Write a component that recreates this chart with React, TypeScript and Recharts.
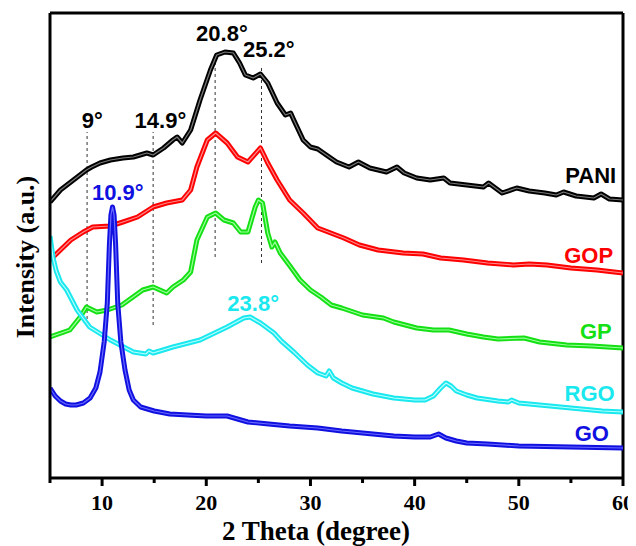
import { LineChart, Line, XAxis, YAxis, ReferenceLine, ReferenceDot } from "recharts";

// 2θ (degree) vs intensity (a.u., arbitrary offset scale)
const PANI: [number, number][] = [
  [5, 276], [6, 288], [7, 296], [8, 304], [8.5, 308], [9, 311], [9.8, 315], [10.8, 318],
  [12, 320], [13, 321], [14.3, 325], [14.9, 323], [15.9, 330], [16.8, 338], [17.2, 341],
  [17.7, 335], [18.5, 348], [19.4, 378], [20, 396], [20.4, 408], [21, 423], [21.8, 426],
  [22.6, 425], [23.2, 415], [23.75, 403], [24.5, 400], [25.2, 404], [25.9, 395], [26.8, 375],
  [27.6, 363], [28.1, 365], [28.4, 358], [29.3, 338], [30, 331], [30.7, 329], [31.8, 321],
  [32.5, 316], [33.7, 311], [34.6, 316], [35.7, 310], [36.5, 308], [37.3, 306], [38.3, 311],
  [39, 305], [40.2, 300], [41.5, 298], [42.8, 300], [43.4, 295], [45, 293], [46.6, 291],
  [47.1, 295], [48.4, 285], [49.8, 290], [51, 287], [52.5, 285], [53.6, 283], [54.3, 286],
  [55.5, 282], [57.2, 280], [57.9, 284], [58.7, 279], [60, 278],
];

const GOP: [number, number][] = [
  [5, 218], [5.3, 221], [6, 228], [7, 238], [8.2, 246], [9.1, 251], [10.8, 252], [12, 256],
  [13.4, 261], [14.9, 271], [16.2, 275], [17.7, 278], [18.5, 288], [19.1, 311], [20.1, 338],
  [20.9, 345], [22, 335], [23, 321], [24, 316], [25.2, 330], [25.9, 315], [26.8, 298],
  [28, 278], [29.3, 265], [30.7, 250], [33.2, 240], [34.7, 233], [36.5, 228], [38.9, 225],
  [40.8, 224], [42.5, 220], [44.7, 218], [47, 215], [49.5, 213], [51, 214], [52.7, 213],
  [55, 210], [57.5, 208], [60, 205],
];

const GP: [number, number][] = [
  [5, 141], [6.9, 148], [7.9, 161], [8.5, 171], [9.5, 166], [10.5, 168], [11.9, 173],
  [13.9, 188], [14.9, 191], [16.2, 185], [16.8, 191], [17.8, 198], [18.5, 206], [19.1, 238],
  [20.1, 261], [20.9, 265], [21.7, 258], [22.6, 255], [23.3, 246], [24, 246], [24.7, 271],
  [25, 278], [25.4, 275], [25.9, 245], [26.3, 231], [26.6, 236], [27.1, 225], [28.1, 211],
  [29, 198], [30, 188], [31, 181], [32, 173], [33, 170], [35, 163], [37, 160], [38, 156],
  [40.2, 150], [41.8, 148], [43.3, 148], [45, 144], [46.6, 141], [48, 139], [50.5, 140],
  [52, 136], [54.6, 133], [57, 132], [60, 130],
];

const RGO: [number, number][] = [
  [5, 242], [5.3, 220], [5.6, 207], [6, 196], [6.6, 188], [7.6, 168], [8.8, 151], [10.8, 138],
  [13, 126], [14.2, 124], [14.5, 127], [14.9, 125], [16.8, 131], [19.4, 138], [22, 151],
  [23.6, 160], [24.2, 161], [25.2, 155], [26.5, 145], [27.2, 137], [28.4, 126], [29.7, 113],
  [30.7, 105], [31.5, 102], [31.8, 107], [32.2, 100], [33, 95], [34, 90], [35, 87], [36, 84],
  [37, 82], [38, 80], [39, 79], [40, 78], [41, 78], [41.8, 82], [42.5, 90], [43, 95],
  [43.5, 92], [44, 87], [45, 83], [46, 80], [48, 77], [49, 76], [49.3, 78], [50, 75],
  [52, 73], [54, 71], [56, 69], [58, 67], [60, 66],
];

const GO: [number, number][] = [
  [5, 90], [5.5, 82], [6, 77], [6.5, 74], [7, 73], [7.5, 73], [8.2, 75], [8.85, 80],
  [9.4, 90], [9.8, 106], [10.2, 136], [10.5, 175], [10.7, 233], [10.85, 263], [11, 271],
  [11.15, 263], [11.3, 233], [11.5, 175], [11.8, 136], [12.2, 108], [12.6, 88], [13, 78],
  [13.7, 71], [15, 67], [16.5, 64], [18.2, 63], [20, 62], [22, 62], [23, 59], [24, 56],
  [26, 54], [28, 52], [30.7, 50], [33, 47], [35, 45], [38, 42], [40, 41], [41.5, 41],
  [42.3, 44], [43, 40], [44, 37], [45, 35], [47, 34], [50, 32], [55, 31], [60, 30],
];

const THETA_TICKS = [5, 10, 15, 20, 25, 30, 35, 40, 45, 50, 55, 60];

const SERIES = [
  { name: "PANI", data: PANI, color: "#000000", core: "#7a7a7a" },
  { name: "GOP", data: GOP, color: "#ff0000", core: "#ff8a8a" },
  { name: "GP", data: GP, color: "#14e014", core: "#9cff9c" },
  { name: "RGO", data: RGO, color: "#19e8ee", core: "#b8ffff" },
  { name: "GO", data: GO, color: "#1010e0", core: "#6a6aff" },
];

// dashed drop lines at the marked reflections
const DROP_LINES = [
  { theta: 8.56, from: 153, to: 346 },
  { theta: 14.9, from: 153, to: 346 },
  { theta: 20.85, from: 221, to: 425 },
  { theta: 25.3, from: 215, to: 413 },
];

const PEAK_LABELS = [
  { text: "9°", x: 9.05, y: 358, color: "#000" },
  { text: "14.9°", x: 15.6, y: 358, color: "#000" },
  { text: "20.8°", x: 21.5, y: 445, color: "#000" },
  { text: "25.2°", x: 26.0, y: 429, color: "#000" },
  { text: "10.9°", x: 11.5, y: 286, color: "#1010e0" },
  { text: "23.8°", x: 24.5, y: 175, color: "#19e8ee" },
];

const CURVE_LABELS = [
  { text: "PANI", x: 56.9, y: 303, color: "#000" },
  { text: "GOP", x: 56.7, y: 223, color: "#ff0000" },
  { text: "GP", x: 57.4, y: 147, color: "#14e014" },
  { text: "RGO", x: 56.8, y: 85, color: "#19e8ee" },
  { text: "GO", x: 57.0, y: 45, color: "#1010e0" },
];

const serif = "'Liberation Serif', 'Times New Roman', serif";
const sans = "'Liberation Sans', Arial, sans-serif";

function ThetaTick({ x, y, payload }: any) {
  const major = payload.value % 10 === 0;
  return (
    <g>
      <line x1={x} x2={x} y1={y} y2={y + (major ? 8 : 5)} stroke="#000" strokeWidth={3} />
      {major && (
        <text x={x} y={y + 32} textAnchor="middle" fontFamily={serif} fontWeight="bold" fontSize={22} fill="#000">
          {payload.value}
        </text>
      )}
    </g>
  );
}

function XTitle() {
  return (
    <text x={308} y={532} textAnchor="middle" fontFamily={serif} fontWeight="bold" fontSize={27} fill="#000">
      2 Theta (degree)
    </text>
  );
}

function YTitle() {
  return (
    <text
      x={17}
      y={249}
      transform="rotate(-90, 17, 249)"
      textAnchor="middle"
      dominantBaseline="central"
      fontFamily={serif}
      fontWeight="bold"
      fontSize={26}
      fill="#000"
    >
      Intensity (a.u.)
    </text>
  );
}

export default function App() {
  return (
    <LineChart width={628} height={538} margin={{ top: 5, right: 13, left: 0, bottom: 0 }}>
      <XAxis
        type="number"
        dataKey="x"
        domain={[5, 60]}
        ticks={THETA_TICKS}
        allowDataOverflow
        height={68}
        tickSize={0}
        tickMargin={0}
        tickLine={false}
        tick={<ThetaTick />}
        axisLine={{ stroke: "#000", strokeWidth: 3 }}
        label={<XTitle />}
      />
      <YAxis
        type="number"
        dataKey="y"
        domain={[0, 465]}
        allowDataOverflow
        width={42}
        tick={false}
        tickLine={false}
        axisLine={{ stroke: "#000", strokeWidth: 3 }}
        label={<YTitle />}
      />
      <ReferenceLine y={465} stroke="#000" strokeWidth={3} />
      <ReferenceLine x={60} stroke="#000" strokeWidth={3} />
      {DROP_LINES.map((d) => (
        <ReferenceLine
          key={d.theta}
          segment={[{ x: d.theta, y: d.from }, { x: d.theta, y: d.to }]}
          stroke="#333"
          strokeWidth={1}
          strokeDasharray="3 3"
        />
      ))}
      {SERIES.flatMap((s) => {
        const pts = s.data.map(([x, y]) => ({ x, y }));
        return [
          <Line key={s.name} data={pts} dataKey="y" type="linear" stroke={s.color} strokeWidth={5}
            dot={false} activeDot={false} isAnimationActive={false} strokeLinejoin="round" />,
          <Line key={s.name + "-core"} data={pts} dataKey="y" type="linear" stroke={s.core} strokeWidth={1.2}
            dot={false} activeDot={false} isAnimationActive={false} strokeLinejoin="round" />,
        ];
      })}
      {[...PEAK_LABELS, ...CURVE_LABELS].map((l) => (
        <ReferenceDot
          key={l.text}
          x={l.x}
          y={l.y}
          r={0}
          stroke="none"
          fill="none"
          label={{
            value: l.text,
            position: "center",
            fill: l.color,
            fontSize: 22,
            fontWeight: "bold",
            fontFamily: sans,
          }}
        />
      ))}
    </LineChart>
  );
}
